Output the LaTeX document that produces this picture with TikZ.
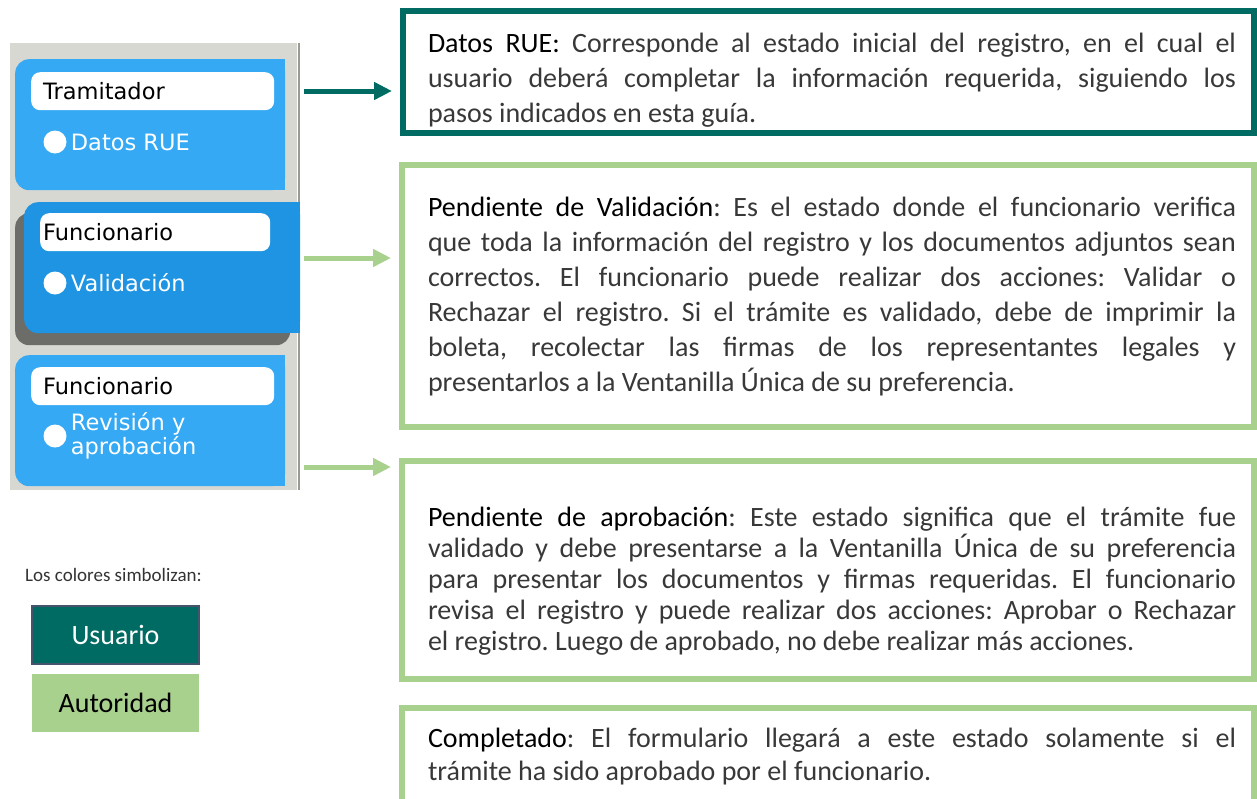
\documentclass[tikz,border=0pt]{standalone}
\usepackage{fontspec}
\setmainfont{Carlito}
\newfontfamily\panelfont{DejaVu Sans}
\usetikzlibrary{arrows.meta,positioning,calc}
\definecolor{cUser}{HTML}{006B63}
\definecolor{cAuth}{HTML}{A9D18E}
\definecolor{cPanel}{HTML}{D8D8D2}
\definecolor{cEdge}{HTML}{9A9A95}
\definecolor{cTab}{HTML}{35A9F3}
\definecolor{cTabOn}{HTML}{1E94E2}
\definecolor{cShadow}{HTML}{6C6C69}
\definecolor{cLegLine}{HTML}{44546A}
\frenchspacing

\begin{document}
\begin{tikzpicture}[
    x=1pt, y=-1pt,
    tab/.style={fill=cTab, rounded corners=14pt, inner sep=0pt, anchor=north west, minimum width=270pt, minimum height=131pt},
    lab/.style={fill=white, rounded corners=9pt, anchor=north west, minimum height=38pt, inner ysep=0pt, align=left, font=\panelfont\fontsize{22.5}{22.5}\selectfont},
    dot/.style={circle, fill=white, minimum size=23pt, inner sep=0pt},
    tabtxt/.style={text=white, inner sep=0pt, align=left, font=\panelfont\fontsize{22.5}{21}\selectfont},
    frame/.style={draw=#1, line width=6pt, minimum width=852pt},
    desc/.style={text width=808pt, align=justify, inner sep=0pt, text=black!78, font=\fontsize{28}{35}\selectfont},
    arr/.style={-{Triangle[length=18pt,width=17pt]}, line width=5pt, draw=#1, shorten >=8pt},
    leg/.style={minimum width=167pt, minimum height=58pt, font=\fontsize{28}{30}\selectfont}
]
\useasboundingbox (0,0) rectangle (1257,798);

% panel of states
\fill[cPanel] (10,43) rectangle (297,490);
\draw[cEdge, line width=2pt] (299,43) -- (299,490);

\node[tab] (tram) at (15,59) {};
\fill[cTab] (tram.north) rectangle (tram.south east);
\node[lab, text width=219pt, inner xsep=12pt] (labA) at (31,72) {Tramitador};
\node[dot] (dotA) at (55,142) {};
\node[tabtxt, right=4pt of dotA] (stA) {Datos RUE};

\node[tab, fill=cShadow, minimum width=275pt, minimum height=132pt] (shad) at (15,213) {};
\node[tab, fill=cTabOn, minimum width=276pt] (func) at (24,202) {};
\fill[cTabOn] (func.north) rectangle (func.south east);
\node[lab, text width=224pt, inner xsep=3pt] (labB) at (40,213) {Funcionario};
\node[dot] (dotB) at (55,283) {};
\node[tabtxt, right=4pt of dotB] (stB) {Validación};

\node[tab] (revi) at (15,355) {};
\fill[cTab] (revi.north) rectangle (revi.south east);
\node[lab, text width=219pt, inner xsep=12pt] (labC) at (31,367) {Funcionario};
\node[dot] (dotC) at (55,436) {};
\node[tabtxt, right=4pt of dotC] (stC) {Revisión y\\aprobación};

% legend
\node[anchor=west, inner sep=0pt, text=black!80, font=\fontsize{19}{22}\selectfont] (legT) at (25,575) {Los colores simbolizan:};
\node[leg, fill=cUser, draw=cLegLine, line width=1.5pt, text=white] (usuario) at (115.5,635) {Usuario};
\node[leg, fill=cAuth] (autoridad) at (115.5,702.5) {Autoridad};

% descriptions
\node[frame=cUser, minimum width=851pt, minimum height=122pt] (datos) at (828.5,72) {};
\node[desc] (txA) at (832,80) {\textcolor{black}{Datos RUE:} Corresponde al estado inicial del registro, en el cual el\linebreak usuario deberá completar la información requerida, siguiendo los\linebreak pasos indicados en esta guía.};

\node[frame=cAuth, minimum height=262pt] (valid) at (828,296) {};
\node[desc] (txB) at (832,297) {\textcolor{black}{Pendiente de Validación}: Es el estado donde el funcionario verifica\linebreak que toda la información del registro y los documentos adjuntos sean\linebreak correctos. El funcionario puede realizar dos acciones: Validar o\linebreak Rechazar el registro. Si el trámite es validado, debe de imprimir la\linebreak boleta, recolectar las firmas de los representantes legales y\linebreak presentarlos a la Ventanilla Única de su preferencia.};

\node[frame=cAuth, minimum height=218pt] (aprob) at (828,569.5) {};
\node[desc, font=\fontsize{28}{31}\selectfont] (txC) at (832,581) {\textcolor{black}{Pendiente de aprobación}: Este estado significa que el trámite fue\linebreak validado y debe presentarse a la Ventanilla Única de su preferencia\linebreak para presentar los documentos y firmas requeridas. El funcionario\linebreak revisa el registro y puede realizar dos acciones: Aprobar o Rechazar\linebreak el registro. Luego de aprobado, no debe realizar más acciones.};

\node[frame=cAuth, minimum height=122pt] (compl) at (828,769) {};
\node[desc, font=\fontsize{28}{33}\selectfont] (txD) at (832,757) {\textcolor{black}{Completado}: El formulario llegará a este estado solamente si el\linebreak trámite ha sido aprobado por el funcionario.};

% arrows
\coordinate (s1) at (304,91);
\coordinate (s2) at (304,258);
\coordinate (s3) at (304,467);
\draw[arr=cUser] (s1) -- (s1 -| datos.west);
\draw[arr=cAuth] (s2) -- (s2 -| valid.west);
\draw[arr=cAuth] (s3) -- (s3 -| aprob.west);

\end{tikzpicture}
\end{document}
